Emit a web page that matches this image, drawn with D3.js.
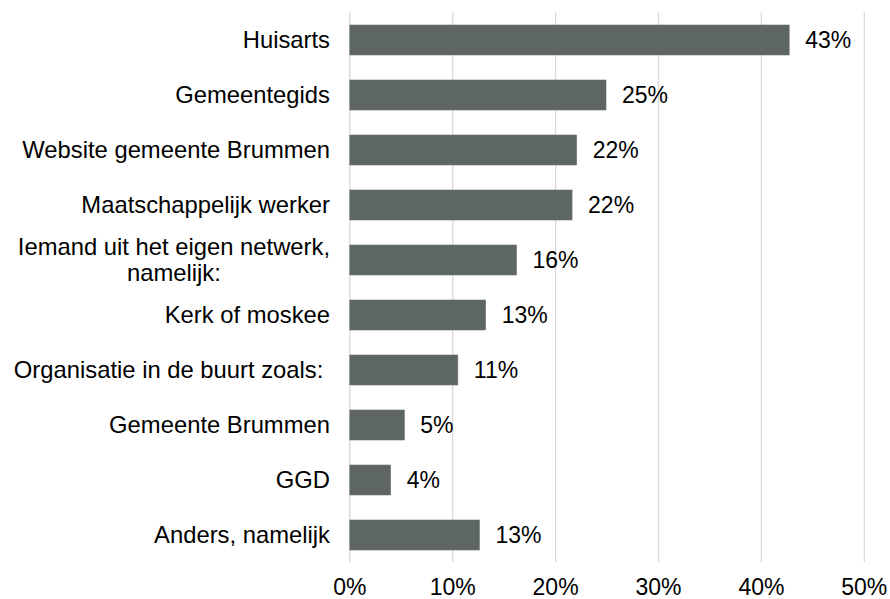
<!DOCTYPE html>
<html lang="nl">

<head>
    <meta charset="UTF-8">
    <title>Bronnen van informatie</title>
    <script src="https://d3js.org/d3.v7.min.js"></script>
    <style>
        body {
            margin: 0;
            background: #ffffff;
        }

        text {
            font-family: "Liberation Sans", Arial, sans-serif;
            font-size: 23px;
            fill: #000000;
        }

        text.cat {
            font-size: 23.8px;
        }
    </style>
</head>

<body>

    <script>
        // Data
        var categories = [
            "Huisarts",
            "Gemeentegids",
            "Website gemeente Brummen",
            "Maatschappelijk werker",
            "Iemand uit het eigen netwerk,\nnamelijk:",
            "Kerk of moskee",
            "Organisatie in de buurt zoals: ",
            "Gemeente Brummen",
            "GGD",
            "Anders, namelijk"
        ];
        var values = [0.427, 0.249, 0.2205, 0.216, 0.162, 0.132, 0.105, 0.053, 0.0397, 0.126];
        var valueLabels = ["43%", "25%", "22%", "22%", "16%", "13%", "11%", "5%", "4%", "13%"];
        var tickValues = [0, 0.1, 0.2, 0.3, 0.4, 0.5];

        var width = 890;
        var height = 599;

        var svg = d3.select("body")
            .append("svg")
            .attr("width", width)
            .attr("height", height);

        // Scales
        var x = d3.scaleLinear()
            .domain([0, 0.5])
            .range([349.8, 864.3]);

        var y = d3.scaleBand()
            .domain(d3.range(categories.length))
            .range([12.5, 562.5])
            .paddingInner(25 / 55)
            .paddingOuter(12.5 / 55);

        // Vertical gridlines
        svg.append("g")
            .selectAll("line")
            .data(tickValues)
            .enter().append("line")
            .attr("x1", d => x(d))
            .attr("x2", d => x(d))
            .attr("y1", 12.5)
            .attr("y2", 562.5)
            .attr("stroke", "#d9d9d9")
            .attr("stroke-width", 1.3);

        // X axis tick labels
        svg.append("g")
            .selectAll("text")
            .data(tickValues)
            .enter().append("text")
            .attr("x", d => x(d))
            .attr("y", 595)
            .attr("text-anchor", "middle")
            .text(d => d3.format(".0%")(d));

        // Bars
        svg.append("g")
            .selectAll("rect")
            .data(values)
            .enter().append("rect")
            .attr("x", x(0))
            .attr("y", (d, i) => y(i))
            .attr("width", d => x(d) - x(0))
            .attr("height", y.bandwidth())
            .attr("fill", "#5e6663")
            .attr("stroke", "#6d7572")
            .attr("stroke-width", 0.6);

        // Value labels
        svg.append("g")
            .selectAll("text")
            .data(values)
            .enter().append("text")
            .attr("x", d => x(d) + 16)
            .attr("y", (d, i) => y(i) + y.bandwidth() / 2)
            .attr("dy", "0.35em")
            .text((d, i) => valueLabels[i]);

        // Category labels (right aligned block, lines centred within block)
        var labelRight = 330;
        var lineHeight = 26;
        categories.forEach(function (cat, i) {
            var lines = cat.split("\n");
            var cy = y(i) + y.bandwidth() / 2;
            var g = svg.append("text")
                .attr("class", "cat")
                .attr("text-anchor", lines.length > 1 ? "middle" : "end")
                .attr("xml:space", "preserve")
                .style("white-space", "pre");
            var spans = lines.map(function (ln, k) {
                return g.append("tspan")
                    .attr("y", cy + (k - (lines.length - 1) / 2) * lineHeight)
                    .attr("dy", "0.35em")
                    .text(ln);
            });
            if (lines.length > 1) {
                var maxW = d3.max(spans, s => s.node().getComputedTextLength());
                spans.forEach(s => s.attr("x", labelRight - maxW / 2));
            } else {
                spans[0].attr("x", labelRight);
            }
        });
    </script>

</body>

</html>
